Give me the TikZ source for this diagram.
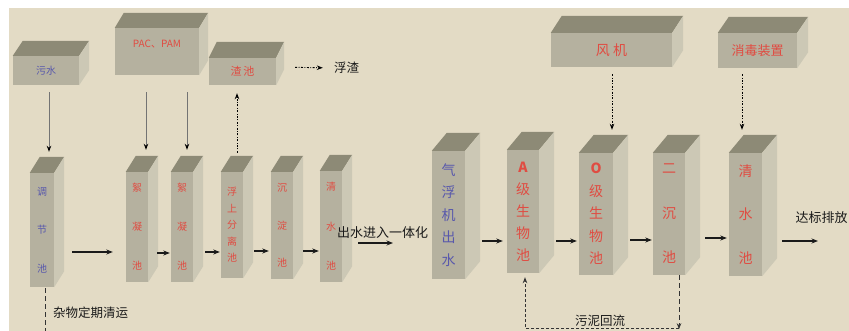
\documentclass[tikz,border=0pt]{standalone}
\usepackage{fontspec}
\newfontfamily\cjk{Noto Sans CJK SC}
\usepackage{xcolor}
\usetikzlibrary{arrows.meta}

\definecolor{bgc}{HTML}{E3DBC5}
\definecolor{frontc}{HTML}{B5B19F}
\definecolor{topc}{HTML}{8D8A76}
\definecolor{sidec}{HTML}{CCC8B5}
\definecolor{bluec}{HTML}{5858AC}
\definecolor{redc}{HTML}{E04C42}
\definecolor{inkc}{HTML}{1A1A1A}

\begin{document}
\begin{tikzpicture}
    [%%%%%%%%%%%%%%%%%%%%%%%%%%%%%%
        x=1pt, y=-1pt,
        front/.style={rectangle, fill=frontc, inner sep=0pt, align=center},
        blu/.style={text=bluec},
        rd/.style={text=redc},
        lbl/.style={text=inkc, inner sep=0pt, font=\cjk\fontsize{12.5}{14}\selectfont},
        arr/.style={-{Stealth[length=6.5pt,width=5pt]}, line width=1.1pt, inkc},
        varr/.style={-{Stealth[length=6pt,width=4.5pt,color=black]}, line width=0.9pt, black!55},
        dotarr/.style={-{Stealth[length=6pt,width=4.5pt]}, line width=0.9pt, black,
            dash pattern=on 2pt off 1.5pt on 0.8pt off 1.5pt},
        dsh/.style={line width=0.9pt, black!80, dash pattern=on 5pt off 3pt}
    ]%%%%%%%%%%%%%%%%%%%%%%%%%%%%%%

\useasboundingbox (0,0) rectangle (849,331);
\fill[white] (0,0) rectangle (849,331);
\fill[bgc] (9,8) rectangle (849,331);

% top boxes
\node[front, blu, minimum width=66pt, minimum height=29pt, font=\cjk\fontsize{10}{12}\selectfont] (wushui) at (46,70.5) {污水};
\node[front, minimum width=84pt, minimum height=47pt,
    label={[rd, anchor=north, yshift=-9pt, font=\cjk\fontsize{10}{12}\selectfont]north:PAC、PAM}] (pac) at (157,51.5) {};
\node[front, rd, minimum width=67pt, minimum height=27pt, font=\cjk\fontsize{11}{12}\selectfont] (zhachi) at (242.5,71.5) {渣\,池};
\node[front, rd, minimum width=121pt, minimum height=34pt, font=\cjk\fontsize{14}{16}\selectfont] (fengji) at (611.5,50) {风\ 机};
\node[front, rd, minimum width=79pt, minimum height=35pt, font=\cjk\fontsize{13}{15}\selectfont] (xiaodu) at (757.5,50.5) {消毒装置};

% left row of tanks
\node[front, blu, minimum width=24pt, minimum height=114pt, font=\cjk\fontsize{10}{38.5}\selectfont] (tiaojie) at (42,230) {调\\节\\池};
\node[front, rd, minimum width=22pt, minimum height=110pt, font=\cjk\fontsize{10}{39}\selectfont] (xuning1) at (137,227) {絮\\凝\\池};
\node[front, rd, minimum width=22pt, minimum height=110pt, font=\cjk\fontsize{10}{39}\selectfont] (xuning2) at (182,227) {絮\\凝\\池};
\node[front, rd, minimum width=22pt, minimum height=106pt, font=\cjk\fontsize{10}{16.5}\selectfont] (fushang) at (232,225) {浮\\上\\分\\离\\池};
\node[front, rd, minimum width=22pt, minimum height=107pt, font=\cjk\fontsize{10}{37.5}\selectfont] (chendian) at (282,225.5) {沉\\淀\\池};
\node[front, rd, minimum width=22pt, minimum height=111pt, font=\cjk\fontsize{10}{39.5}\selectfont] (qingshui1) at (331,226.5) {清\\水\\池};

% right row of tanks
\node[front, blu, minimum width=33pt, minimum height=128pt, font=\cjk\fontsize{14}{22.5}\selectfont] (qifu) at (448.5,215) {气\\浮\\机\\出\\水};
\node[front, rd, minimum width=32pt, minimum height=123pt, font=\cjk\fontsize{14}{22}\selectfont] (aji) at (523,211.5) {\textbf{A}\\级\\生\\物\\池};
\node[front, rd, minimum width=34pt, minimum height=122pt, font=\cjk\fontsize{14}{22.5}\selectfont] (oji) at (596,214) {\textbf{O}\\级\\生\\物\\池};
\node[front, rd, minimum width=32pt, minimum height=122pt, font=\cjk\fontsize{14}{44.5}\selectfont] (erchen) at (669,214) {二\\沉\\池};
\node[front, rd, minimum width=33pt, minimum height=123pt, font=\cjk\fontsize{14}{43.5}\selectfont] (qingshui2) at (745.5,214.5) {清\\水\\池};

% top and side faces
\foreach \n/\dx/\dy in {wushui/10/15, pac/9/15, zhachi/8/16, fengji/11/17, xiaodu/11/16,
    tiaojie/10/16, xuning1/10/16, xuning2/10/16, fushang/10/16, chendian/10/16, qingshui1/10/16,
    qifu/15/18, aji/15/18, oji/15/18, erchen/15/18, qingshui2/15/18}{
    \fill[topc] (\n.north west) -- ++(\dx,-\dy) -- ([shift={(\dx,-\dy)}]\n.north east) -- (\n.north east) -- cycle;
    \fill[sidec] (\n.north east) -- ([shift={(\dx,-\dy)}]\n.north east) -- ([shift={(\dx,-\dy)}]\n.south east) -- (\n.south east) -- cycle;
}

% texts
\node[lbl] (fuzha) at (346.5,68) {浮渣};
\node[lbl] (zawu) at (90.5,313) {杂物定期清运};
\node[lbl, font=\cjk\fontsize{13}{15}\selectfont] (yiti) at (382.5,233) {出水进入一体化};
\node[lbl, font=\cjk\fontsize{13}{15}\selectfont] (dabiao) at (821.5,218) {达标排放};
\node[lbl] (wuni) at (600,321) {污泥回流};

\coordinate (out1) at (393,243);
\coordinate (out2) at (818,241);
\coordinate (zabot) at (45,331);

% flow arrows
\draw[arr, shorten <=18pt, shorten >=13pt] ([yshift=-22pt]tiaojie.east) -- ([yshift=-25pt]xuning1.west);
\draw[arr, shorten <=9pt, shorten >=1pt] ([yshift=-26pt]xuning1.east) -- ([yshift=-26pt]xuning2.west);
\draw[arr, shorten <=12pt, shorten >=1pt] ([yshift=-25pt]xuning2.east) -- ([yshift=-27pt]fushang.west);
\draw[arr, shorten <=11pt, shorten >=2pt] ([yshift=-26pt]fushang.east) -- ([yshift=-25.5pt]chendian.west);
\draw[arr, shorten <=10pt, shorten >=1pt] ([yshift=-25.5pt]chendian.east) -- ([yshift=-24.5pt]qingshui1.west);
\draw[arr, shorten <=16pt] ([yshift=-16.5pt]qingshui1.east) -- (out1);

\draw[arr, shorten <=17pt, shorten >=4pt] ([yshift=-26pt]qifu.east) -- ([yshift=-29.5pt]aji.west);
\draw[arr, shorten <=17pt, shorten >=2pt] ([yshift=-29.5pt]aji.east) -- ([yshift=-27pt]oji.west);
\draw[arr, shorten <=17pt, shorten >=1pt] ([yshift=-26pt]oji.east) -- ([yshift=-26pt]erchen.west);
\draw[arr, shorten <=20pt, shorten >=2pt] ([yshift=-24pt]erchen.east) -- ([yshift=-23.5pt]qingshui2.west);
\draw[arr, shorten <=20pt] ([yshift=-26.5pt]qingshui2.east) -- (out2);

% feeds from the top
\draw[varr, shorten <=7pt] ([xshift=3pt]wushui.south) -- ([xshift=7pt,yshift=21pt]tiaojie.north);
\draw[varr, shorten <=17pt] ([xshift=-11pt]pac.south) -- ([xshift=9pt,yshift=22pt]xuning1.north);
\draw[varr, shorten <=17pt] ([xshift=30pt]pac.south) -- ([xshift=5pt,yshift=22pt]xuning2.north);
\draw[dotarr, shorten <=19pt, shorten >=8pt] ([xshift=5pt]fushang.north) -- ([xshift=-5.5pt]zhachi.south);
\draw[dotarr, shorten <=19pt, shorten >=11pt] ([yshift=4.5pt]zhachi.east) -- (fuzha.west);
\draw[dotarr, shorten <=7pt] ([xshift=0.5pt]fengji.south) -- ([xshift=16pt,yshift=23pt]oji.north);
\draw[dotarr, shorten <=6pt] ([xshift=-15.5pt]xiaodu.south) -- ([xshift=-3.5pt,yshift=23pt]qingshui2.north);

% waste and sludge return
\draw[dsh, shorten <=1pt] ([xshift=3pt]tiaojie.south) -- (zabot);
\coordinate (ret) at ([xshift=10pt,yshift=-54pt]erchen.south);
\draw[dsh, -{Stealth[length=6pt,width=4.5pt]}] ([xshift=10pt]erchen.south) -- (ret);
\draw[line width=0.9pt, black!80, dash pattern=on 3pt off 2pt, -{Stealth[length=6pt,width=4.5pt]}, shorten >=4pt]
    ([yshift=1pt]ret) -| ([xshift=2pt]aji.south);

\end{tikzpicture}
\end{document}
